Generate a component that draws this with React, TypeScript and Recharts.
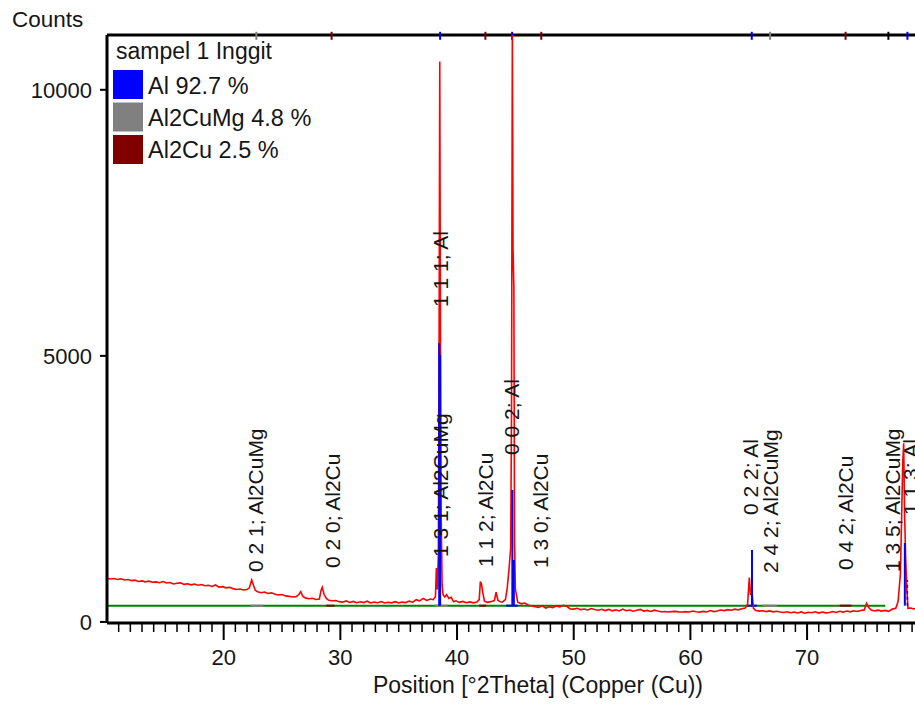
import React from 'react';
import { ComposedChart, Line, XAxis, YAxis, ReferenceLine, ReferenceDot } from 'recharts';

const FONT = '"Liberation Sans", Arial, sans-serif';
const INK = '#161616';

const phaseNames = ['Al 92.7 %', 'Al2CuMg 4.8 %', 'Al2Cu 2.5 %'];
const phaseColors = ['#0000ff', '#808080', '#800000'];

// measured scan: [2theta, counts]
const scan: [number, number][] = [
  [10.0, 822], [10.3, 806], [10.6, 815], [10.9, 798], [11.2, 810], [11.5, 789], [11.8, 797], [12.1, 776],
  [12.4, 785], [12.7, 761], [13.0, 772], [13.3, 754], [13.6, 766], [13.9, 746], [14.2, 753], [14.5, 737],
  [14.8, 758], [15.1, 731], [15.4, 741], [15.7, 713], [16.0, 726], [16.3, 734], [16.6, 706], [16.9, 717],
  [17.2, 697], [17.5, 711], [17.8, 689], [18.1, 704], [18.4, 681], [18.7, 688], [19.0, 667], [19.3, 694],
  [19.6, 655], [19.9, 663], [20.2, 641], [20.5, 650], [20.8, 626], [21.1, 611], [21.4, 619], [21.7, 601],
  [22.0, 609], [22.2, 640], [22.4, 790], [22.55, 690], [22.7, 598], [22.9, 566], [23.2, 549], [23.5, 561],
  [23.8, 534], [24.1, 546], [24.4, 519], [24.7, 506], [25.0, 514], [25.3, 489], [25.6, 481], [25.9, 468],
  [26.2, 476], [26.45, 515], [26.6, 570], [26.8, 478], [27.0, 452], [27.3, 437], [27.6, 446], [27.9, 421],
  [28.2, 432], [28.35, 598], [28.45, 652], [28.6, 520], [28.8, 441], [29.0, 406], [29.3, 398], [29.6, 402],
  [29.9, 381], [30.2, 372], [30.5, 394], [30.8, 367], [31.1, 386], [31.4, 361], [31.7, 378], [32.0, 364],
  [32.3, 389], [32.6, 357], [32.9, 373], [33.2, 362], [33.5, 384], [33.8, 356], [34.1, 371], [34.4, 359],
  [34.7, 381], [35.0, 358], [35.3, 373], [35.6, 364], [35.9, 391], [36.2, 371], [36.5, 419], [36.8, 394],
  [37.1, 441], [37.4, 404], [37.7, 431], [37.95, 418], [38.15, 472], [38.23, 1015], [38.3, 610], [38.4, 1250],
  [38.46, 5000], [38.52, 10530], [38.58, 5200], [38.64, 2000], [38.72, 700], [38.8, 512], [38.95, 468],
  [39.1, 512], [39.3, 441], [39.5, 462], [39.7, 379], [39.9, 398], [40.2, 368], [40.5, 386], [40.8, 361],
  [41.1, 377], [41.4, 359], [41.7, 373], [41.9, 420], [42.0, 758], [42.1, 705], [42.2, 560], [42.35, 391],
  [42.6, 369], [42.9, 381], [43.2, 402], [43.35, 558], [43.5, 409], [43.7, 378], [43.9, 376], [44.15, 420],
  [44.3, 640], [44.45, 977], [44.6, 1400], [44.67, 4000], [44.74, 11030], [44.8, 7000], [44.87, 6278],
  [44.93, 1500], [45.0, 620], [45.2, 372], [45.5, 341], [45.8, 356], [46.1, 318], [46.4, 301], [46.7, 288],
  [47.0, 271], [47.3, 302], [47.6, 259], [47.9, 286], [48.2, 268], [48.5, 301], [48.8, 281], [49.1, 312],
  [49.4, 294], [49.7, 246], [50.0, 241], [50.3, 256], [50.6, 231], [50.9, 244], [51.2, 226], [51.5, 251],
  [51.8, 234], [52.1, 221], [52.4, 239], [52.7, 214], [53.0, 236], [53.3, 209], [53.6, 227], [53.9, 206],
  [54.2, 241], [54.5, 211], [54.8, 224], [55.1, 201], [55.4, 219], [55.7, 236], [56.0, 204], [56.3, 216],
  [56.6, 197], [56.9, 221], [57.2, 204], [57.5, 191], [57.8, 196], [58.1, 187], [58.4, 193], [58.7, 199],
  [59.0, 189], [59.3, 186], [59.6, 194], [59.9, 188], [60.2, 204], [60.5, 191], [60.8, 185], [61.1, 198],
  [61.4, 189], [61.7, 214], [62.0, 194], [62.3, 207], [62.6, 224], [62.9, 213], [63.2, 231], [63.5, 221],
  [63.8, 241], [64.1, 227], [64.4, 246], [64.7, 262], [64.9, 330], [65.05, 833], [65.15, 520], [65.3, 508],
  [65.4, 260], [65.6, 213], [65.9, 204], [66.2, 211], [66.5, 195], [66.8, 208], [67.1, 189], [67.4, 201],
  [67.7, 187], [68.0, 178], [68.3, 191], [68.6, 172], [68.9, 186], [69.2, 169], [69.5, 188], [69.8, 165],
  [70.1, 181], [70.4, 174], [70.7, 192], [71.0, 167], [71.3, 186], [71.6, 171], [71.9, 178], [72.2, 196],
  [72.5, 179], [72.8, 201], [73.1, 184], [73.4, 206], [73.7, 189], [74.0, 211], [74.3, 197], [74.6, 216],
  [74.9, 226], [75.1, 351], [75.25, 282], [75.5, 224], [75.8, 209], [76.1, 221], [76.4, 204], [76.7, 216],
  [77.0, 199], [77.3, 241], [77.6, 257], [77.8, 382], [78.0, 900], [78.1, 1917], [78.2, 3014], [78.28, 3359],
  [78.36, 2000], [78.45, 1200], [78.55, 600], [78.65, 257], [78.9, 262], [79.1, 248], [79.3, 244],
];

// fitted background
const background: [number, number][] = [[10.0, 306], [76.7, 306]];

// Al reference sticks: [2theta, height]
const alSticks: [number, number][] = [
  [38.47, 5240], [38.55, 5020], [44.74, 2480], [44.87, 1165], [65.28, 1353], [78.38, 1485],
];

// peak feet on the background: [phase index, from, to]
const peakFeet: [number, number, number][] = [
  [1, 22.3, 23.4], [2, 28.8, 29.5], [1, 38.1, 39.2], [2, 41.9, 42.5], [0, 44.2, 45.2],
  [0, 64.8, 65.7], [1, 66.2, 67.4], [2, 72.8, 73.8],
];

// marks on the top frame: [phase index (3 = overlap), 2theta]
const topMarks: [number, number][] = [
  [1, 22.8], [2, 29.25], [0, 38.55], [2, 42.43], [0, 44.72], [2, 47.22],
  [0, 65.26], [1, 66.83], [2, 73.3], [3, 76.97], [0, 78.6],
];

// peak labels: [text, 2theta, counts at text start]
const peakLabels: [string, number, number][] = [
  ['0 2 1; Al2CuMg', 22.7, 938],
  ['0 2 0; Al2Cu', 29.3, 1014],
  ['1 1 1; Al', 38.56, 5919],
  ['1 3 1; Al2CuMg', 38.56, 1220],
  ['1 1 2; Al2Cu', 42.42, 1032],
  ['0 0 2; Al', 44.68, 3137],
  ['1 3 0; Al2Cu', 47.13, 1014],
  ['0 2 2; Al', 65.13, 2010],
  ['2 4 2; Al2CuMg', 66.84, 920],
  ['0 4 2; Al2Cu', 73.27, 976],
  ['1 3 5; Al2CuMg', 77.3, 938],
  ['1 1 3; Al', 78.84, 2010],
];

const yTicks = [0, 5000, 10000];
const majorTicks = [20, 30, 40, 50, 60, 70];
const xTicks = Array.from({ length: 69 }, (_, i) => 11 + i);

const Y_MIN = -20;
const Y_MAX = 11030;
const X_MIN = 10;
const X_MAX = 79.25;

const scanData = scan.map(([x, y]) => ({ x, y }));
const bgData = background.map(([x, y]) => ({ x, y }));

const XTick = (props: any) => {
  const { x, y, payload } = props;
  const major = majorTicks.includes(payload.value);
  return (
    <g>
      <line x1={x} y1={y} x2={x} y2={y + (major ? 17 : 9)} stroke="#000" strokeWidth={major ? 2 : 1.5} />
      {major && (
        <text x={x} y={y + 42} textAnchor="middle" fontSize={22} fontFamily={FONT} fill={INK}>
          {payload.value}
        </text>
      )}
    </g>
  );
};

const markColor = (i: number) => (i === 3 ? '#000' : phaseColors[i]);

export default function App() {
  return (
    <div style={{ position: 'absolute', left: 0, top: 0, width: 915, height: 706, overflow: 'hidden', background: '#fff' }}>
      <ComposedChart width={915} height={706} margin={{ top: 35, right: 0, bottom: 0, left: 0 }}>
        <XAxis
          type="number"
          dataKey="x"
          domain={[X_MIN, X_MAX]}
          allowDataOverflow
          ticks={xTicks}
          interval={0}
          tick={XTick}
          tickSize={0}
          tickMargin={0}
          tickLine={false}
          height={83}
          axisLine={{ stroke: '#000', strokeWidth: 3 }}
        />
        <YAxis
          type="number"
          domain={[Y_MIN, Y_MAX]}
          allowDataOverflow
          ticks={yTicks}
          interval={0}
          width={107}
          tickSize={7}
          tickMargin={8}
          tickLine={{ stroke: '#000', strokeWidth: 2 }}
          axisLine={{ stroke: '#000', strokeWidth: 3 }}
          tick={{ fontSize: 22, fontFamily: FONT, fill: INK }}
        />
        <ReferenceLine y={Y_MAX} stroke="#000" strokeWidth={3} />
        {topMarks.map(([p, t], i) => (
          <ReferenceLine
            key={'m' + i}
            ifOverflow="visible"
            segment={[{ x: t, y: 10940 }, { x: t, y: 11090 }]}
            stroke={markColor(p)}
            strokeWidth={2}
          />
        ))}
        <Line
          data={bgData}
          dataKey="y"
          stroke="#008000"
          strokeWidth={2}
          dot={false}
          isAnimationActive={false}
        />
        {peakFeet.map(([p, a, b], i) => (
          <ReferenceLine
            key={'f' + i}
            segment={[{ x: a, y: 306 }, { x: b, y: 306 }]}
            stroke={phaseColors[p]}
            strokeWidth={2}
          />
        ))}
        <Line
          data={scanData}
          dataKey="y"
          stroke="#ff0000"
          strokeWidth={1.6}
          dot={false}
          isAnimationActive={false}
        />
        {alSticks.map(([t, h], i) => (
          <ReferenceLine
            key={'s' + i}
            segment={[{ x: t, y: 306 }, { x: t, y: h }]}
            stroke={phaseColors[0]}
            strokeWidth={2}
          />
        ))}
        <ReferenceLine
          segment={[{ x: 78.6, y: 306 }, { x: 78.6, y: 790 }]}
          stroke={phaseColors[0]}
          strokeWidth={1.5}
          strokeDasharray="3 3"
        />
        {peakLabels.map(([txt, t, c], i) => (
          <ReferenceDot
            key={'l' + i}
            x={t}
            y={c}
            r={0}
            ifOverflow="visible"
            shape={(p: any) => (
              <text
                x={p.cx}
                y={p.cy}
                transform={`rotate(-90 ${p.cx} ${p.cy})`}
                dominantBaseline="central"
                fontSize={21}
                fontFamily={FONT}
                fill={INK}
              >
                {txt}
              </text>
            )}
          />
        ))}
      </ComposedChart>
      <svg width={915} height={706} style={{ position: 'absolute', left: 0, top: 0, pointerEvents: 'none' }}>
        <text x={12} y={27} fontSize={22.5} fontFamily={FONT} fill={INK}>Counts</text>
        <text x={116} y={58.5} fontSize={23} fontFamily={FONT} fill={INK}>sampel 1 Inggit</text>
        {phaseNames.map((n, i) => (
          <g key={n}>
            <rect x={113} y={70 + i * 32.5} width={30} height={29} fill={phaseColors[i]} />
            <text x={148} y={94 + i * 32} fontSize={23.5} fontFamily={FONT} fill={INK}>{n}</text>
          </g>
        ))}
        <text x={538} y={693} textAnchor="middle" fontSize={23} fontFamily={FONT} fill={INK}>
          Position [°2Theta] (Copper (Cu))
        </text>
      </svg>
    </div>
  );
}
